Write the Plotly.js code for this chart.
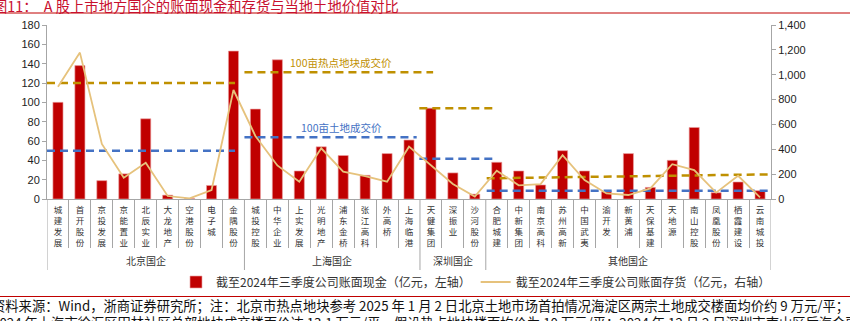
<!DOCTYPE html>
<html><head><meta charset="utf-8">
<script src="https://cdn.plot.ly/plotly-3.0.1.min.js"></script>
<style>html,body{margin:0;padding:0;background:#fff;overflow:hidden}</style>
</head><body><div id="chart" style="width:850px;height:321px"></div>
<script>
// ---------------- data ----------------
const groups = ['北京国企', '上海国企', '深圳国企', '其他国企'];
const groupSizes = [9, 8, 3, 13];
const companies = [
  '城建发展','首开股份','京投发展','京能置业','北辰实业','大龙地产','空港股份','电子城','金隅股份',
  '城投控股','中华企业','上实发展','光明地产','浦东金桥','张江高科','外高桥','上海临港',
  '天健集团','深振业','沙河股份',
  '合肥城建','中新集团','南京高科','苏州高新','中国武夷','渝开发','新黄浦','天保基建','天地源','南山控股','凤凰股份','栖霞建设','云南城投'
];
// 截至2024年三季度公司账面现金（亿元，左轴）
const cash = [100, 138, 19, 26, 83, 4, 0.5, 14, 153,
              93, 144, 29, 54, 45, 24.5, 47, 61,
              94, 27, 5,
              38, 29, 14.5, 50, 29, 7.5, 47, 12, 40, 74, 6.5, 17.6, 8.6];
// 截至2024年三季度公司账面存货（亿元，右轴）
const inventory = [904, 1178, 443, 172, 292, 24, 5, 72, 877,
                   507, 270, 139, 408, 220, 185, 139, 421,
                   274, 121, 19,
                   228, 110, 120, 352, 152, 45, 32, 85, 280, 232, 51, 187, 13];
// 100亩热点地块成交价（亿元，左轴）: per group start / end value and span (category index)
const hotStartIdx = [-0.5, 8.5, 16.47, 19.54];
const hotEndIdx   = [8.07, 17.1, 19.84, 32.45];
const hotValStart = [120, 131, 94, 21.4];
const hotValEnd   = [120, 131, 94, 25.5];
// 100亩土地成交价（亿元，左轴）
const landStartIdx = [-0.5, 8.5, 16.47, 19.54];
const landEndIdx   = [8.07, 16.35, 20.0, 32.45];
const landVal      = [50, 63.8, 41.7, 8.6];

const leftTicks = [0,20,40,60,80,100,120,140,160,180];
const rightTicks = [0,200,400,600,800,1000,1200,1400];

const titleText = '图11：  A 股上市地方国企的账面现金和存货与当地土地价值对比';
const note1 = '资料来源：Wind，浙商证券研究所；注：北京市热点地块参考 2025 年 1 月 2 日北京土地市场首拍情况海淀区两宗土地成交楼面均价约 9 万元/平；';
const note2 = '2024 年上海市徐汇区田林社区总部地块成交楼面价达 13.1 万元/平，假设热点地块楼面均价为 10 万元/平；2024 年 12 月 2 日深圳市南山区后海金融总部';

// ---------------- layout helpers ----------------
const W = 850, H = 321, ML = 47, MR = 79, MT = 25, MB = 122;
const PW = W - ML - MR, PH = H - MT - MB;
const pxX = px => (px - ML) / PW;
const pxY = py => (H - MB - py) / PH;

const FONT = 'Liberation Sans, Arial, Noto Sans CJK SC, sans-serif';
const CJK = 'Noto Sans CJK SC, Liberation Sans, sans-serif';

const idx = companies.map((_, i) => i);
const tickText = companies.map(s => s.split('').join('<br>'));

// group boundaries
const bounds = [-0.5];
groupSizes.forEach(n => bounds.push(bounds[bounds.length - 1] + n));
const minorVals = [];
for (let i = 0; i < companies.length - 1; i++) {
  const v = i + 0.5;
  if (!bounds.includes(v)) minorVals.push(v);
}

function segs(x0s, x1s, v0s, v1s) {
  const x = [], y = [];
  x0s.forEach((a, i) => { x.push(a, x1s[i], null); y.push(v0s[i], v1s[i], null); });
  return {x, y};
}
const hot = segs(hotStartIdx, hotEndIdx, hotValStart, hotValEnd);
const land = segs(landStartIdx, landEndIdx, landVal, landVal);

const traces = [
  {type: 'bar', x: idx, y: cash, name: '截至2024年三季度公司账面现金（亿元，左轴）',
   marker: {color: '#C00000', line: {color: 'rgba(235,160,160,0.8)', width: 0.8}},
   width: 0.46, yaxis: 'y', hoverinfo: 'skip'},
  {type: 'scatter', mode: 'lines', x: idx, y: inventory, yaxis: 'y2',
   name: '截至2024年三季度公司账面存货（亿元，右轴）',
   line: {color: '#E6C27C', width: 1.8}, hoverinfo: 'skip'},
  {type: 'scatter', mode: 'lines', x: land.x, y: land.y, yaxis: 'y', showlegend: false,
   line: {color: '#4472C4', width: 2.5, dash: '8px,5px'}, connectgaps: false, hoverinfo: 'skip'},
  {type: 'scatter', mode: 'lines', x: hot.x, y: hot.y, yaxis: 'y', showlegend: false,
   line: {color: '#BF9000', width: 2.5, dash: '8px,5px'}, connectgaps: false, hoverinfo: 'skip'}
];

const shapes = [];
bounds.forEach(b => shapes.push({type: 'line', xref: 'x', yref: 'paper', x0: b, x1: b,
  y0: 0, y1: pxY(270), line: {color: '#A6A6A6', width: 1}}));
shapes.push({type: 'line', xref: 'paper', yref: 'paper', x0: pxX(0), x1: pxX(850),
  y0: pxY(13), y1: pxY(13), line: {color: '#C00000', width: 1}});
shapes.push({type: 'line', xref: 'paper', yref: 'paper', x0: pxX(0), x1: pxX(850),
  y0: pxY(296.5), y1: pxY(296.5), line: {color: '#C00000', width: 1}});

const annotations = [];
groups.forEach((g, i) => annotations.push({text: g, xref: 'x', yref: 'paper',
  x: (bounds[i] + bounds[i + 1]) / 2, y: pxY(260), showarrow: false,
  font: {family: CJK, size: 10, color: '#333'}, xanchor: 'center', yanchor: 'middle'}));
annotations.push({text: titleText, xref: 'paper', yref: 'paper', x: pxX(-9), y: pxY(6),
  xanchor: 'left', yanchor: 'middle', showarrow: false,
  font: {family: CJK, size: 14.3, color: '#C8102E'}});
annotations.push({text: note1 + '<br>' + note2, xref: 'paper', yref: 'paper', x: pxX(-10), y: pxY(294),
  xanchor: 'left', yanchor: 'top', align: 'left', showarrow: false,
  font: {family: CJK, size: 13.3, color: '#111'}});
annotations.push({text: '100亩热点地块成交价', xref: 'x', yref: 'y', x: 10.48, y: 141,
  xanchor: 'left', yanchor: 'middle', showarrow: false,
  font: {family: CJK, size: 10.5, color: '#BF9000'}});
annotations.push({text: '100亩土地成交价', xref: 'x', yref: 'y', x: 10.98, y: 73.7,
  xanchor: 'left', yanchor: 'middle', showarrow: false,
  font: {family: CJK, size: 10.5, color: '#4472C4'}});

const layout = {
  width: W, height: H,
  margin: {l: ML, r: MR, t: MT, b: MB, pad: 0},
  paper_bgcolor: '#fff', plot_bgcolor: '#fff',
  showlegend: true,
  legend: {orientation: 'h', x: pxX(476), xanchor: 'center', y: pxY(282), yanchor: 'middle',
    font: {family: CJK, size: 12, color: '#333'}, bgcolor: 'rgba(0,0,0,0)', traceorder: 'normal',
    itemwidth: 30},
  bargap: 0.54,
  xaxis: {range: [-0.5, companies.length - 0.5], tickmode: 'array', tickvals: idx, ticktext: tickText,
    ticks: '', showline: true, linecolor: '#A6A6A6', linewidth: 1, showgrid: false, zeroline: false,
    tickfont: {family: CJK, size: 8.5, color: '#333'}, tickangle: 0, automargin: false,
    ticklabelstandoff: 3,
    minor: {tickmode: 'array', tickvals: minorVals, ticks: 'outside', ticklen: 48,
      tickcolor: '#A6A6A6', tickwidth: 1, showgrid: false}},
  yaxis: {range: [0, 180], tickmode: 'array', tickvals: leftTicks, showline: true,
    linecolor: '#A6A6A6', ticks: 'outside', ticklen: 4, tickcolor: '#A6A6A6',
    showgrid: false, zeroline: false, automargin: false,
    tickfont: {family: FONT, size: 11, color: '#222'}},
  yaxis2: {range: [0, 1400], tickmode: 'array', tickvals: rightTicks, tickformat: ',',
    overlaying: 'y', side: 'right', showline: true, linecolor: '#A6A6A6',
    ticks: 'outside', ticklen: 4, tickcolor: '#A6A6A6', showgrid: false, zeroline: false,
    automargin: false, tickfont: {family: FONT, size: 11, color: '#222'}},
  shapes: shapes,
  annotations: annotations,
  font: {family: CJK}
};

Plotly.newPlot('chart', traces, layout, {staticPlot: true, displayModeBar: false});
</script></body></html>
